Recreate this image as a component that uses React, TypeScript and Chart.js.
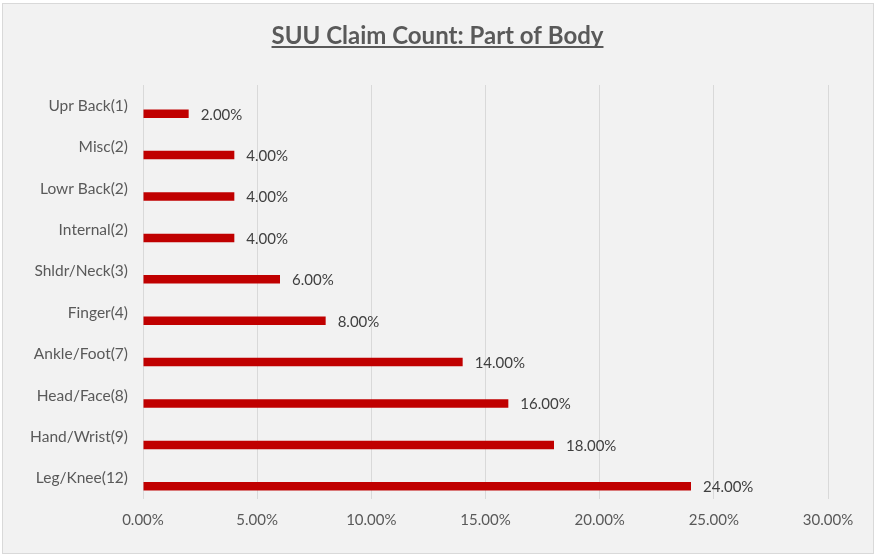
import React, { useEffect, useRef } from "react";
import { Chart, registerables } from "chart.js";

Chart.register(...registerables);

const chartTitle = "SUU Claim Count: Part of Body";
const categories = [
  "Upr Back(1)",
  "Misc(2)",
  "Lowr Back(2)",
  "Internal(2)",
  "Shldr/Neck(3)",
  "Finger(4)",
  "Ankle/Foot(7)",
  "Head/Face(8)",
  "Hand/Wrist(9)",
  "Leg/Knee(12)",
];
const shareValues = [2, 4, 4, 4, 6, 8, 14, 16, 18, 24];
// empty companion series (Excel cluster slot) so the visible bar sits below its label
const emptySeries = [null, null, null, null, null, null, null, null, null, null];
const xTickMin = 0;
const xTickMax = 30;
const xTickStep = 5;

const FONT = "Lato, 'Open Sans', sans-serif";
const LABEL_COLOR = "#595959";
const BAR_COLOR = "#c00000";

const titlePlugin = {
  id: "underlinedTitle",
  afterDraw(chart: any) {
    const ctx = chart.ctx;
    ctx.save();
    ctx.font = `bold 24px ${FONT}`;
    ctx.fillStyle = LABEL_COLOR;
    ctx.textAlign = "center";
    ctx.textBaseline = "alphabetic";
    const cx = 437.5;
    const base = 43.5;
    ctx.fillText(chartTitle, cx, base);
    const w = ctx.measureText(chartTitle).width;
    ctx.fillRect(cx - w / 2, base + 2.5, w, 2);
    ctx.restore();
  },
};

const dataLabelPlugin = {
  id: "barValueLabels",
  afterDatasetsDraw(chart: any) {
    const ctx = chart.ctx;
    const meta = chart.getDatasetMeta(1);
    ctx.save();
    ctx.font = `15px ${FONT}`;
    ctx.fillStyle = "#404040";
    ctx.textAlign = "left";
    ctx.textBaseline = "middle";
    meta.data.forEach((bar: any, i: number) => {
      const v = shareValues[i];
      ctx.fillText(`${v.toFixed(2)}%`, bar.x + 12, bar.y + 1);
    });
    ctx.restore();
  },
};

export default function App() {
  const ref = useRef<HTMLCanvasElement | null>(null);

  useEffect(() => {
    if (!ref.current) return;
    const chart = new Chart(ref.current, {
      type: "bar",
      data: {
        labels: categories,
        datasets: [
          {
            label: "spacer",
            data: emptySeries as any,
            backgroundColor: "transparent",
          },
          {
            label: "Share",
            data: shareValues,
            backgroundColor: BAR_COLOR,
            borderWidth: 0,
          },
        ],
      },
      options: {
        indexAxis: "y",
        responsive: false,
        animation: false,
        categoryPercentage: 0.773,
        barPercentage: 0.53,
        layout: { padding: { top: 85, bottom: 30, left: 10, right: 49 } },
        plugins: {
          legend: { display: false },
          title: { display: false },
          tooltip: { enabled: false },
        },
        scales: {
          x: {
            min: xTickMin,
            max: xTickMax,
            ticks: {
              stepSize: xTickStep,
              padding: 12,
              color: LABEL_COLOR,
              font: { family: FONT, size: 15 },
              callback: (v: any) => `${Number(v).toFixed(2)}%`,
            },
            grid: { color: "#d9d9d9", lineWidth: 1, drawTicks: false },
            border: { display: false },
            afterFit: (scale: any) => {
              scale.height = 30;
            },
          },
          y: {
            ticks: {
              padding: 15,
              color: LABEL_COLOR,
              font: { family: FONT, size: 15.5 },
            },
            grid: { display: false, drawTicks: false },
            border: { display: false },
            afterFit: (scale: any) => {
              scale.width = 133;
            },
          },
        },
      },
      plugins: [titlePlugin, dataLabelPlugin],
    });
    return () => chart.destroy();
  }, []);

  return (
    <div>
      <div
        style={{
          position: "absolute",
          left: 2,
          top: 3,
          width: 872,
          height: 551,
          boxSizing: "border-box",
          border: "1px solid #d9d9d9",
          background: "#f2f2f2",
        }}
      />
      <canvas
        ref={ref}
        width={877}
        height={559}
        style={{ position: "absolute", left: 0, top: 0, width: 877, height: 559 }}
      />
    </div>
  );
}
